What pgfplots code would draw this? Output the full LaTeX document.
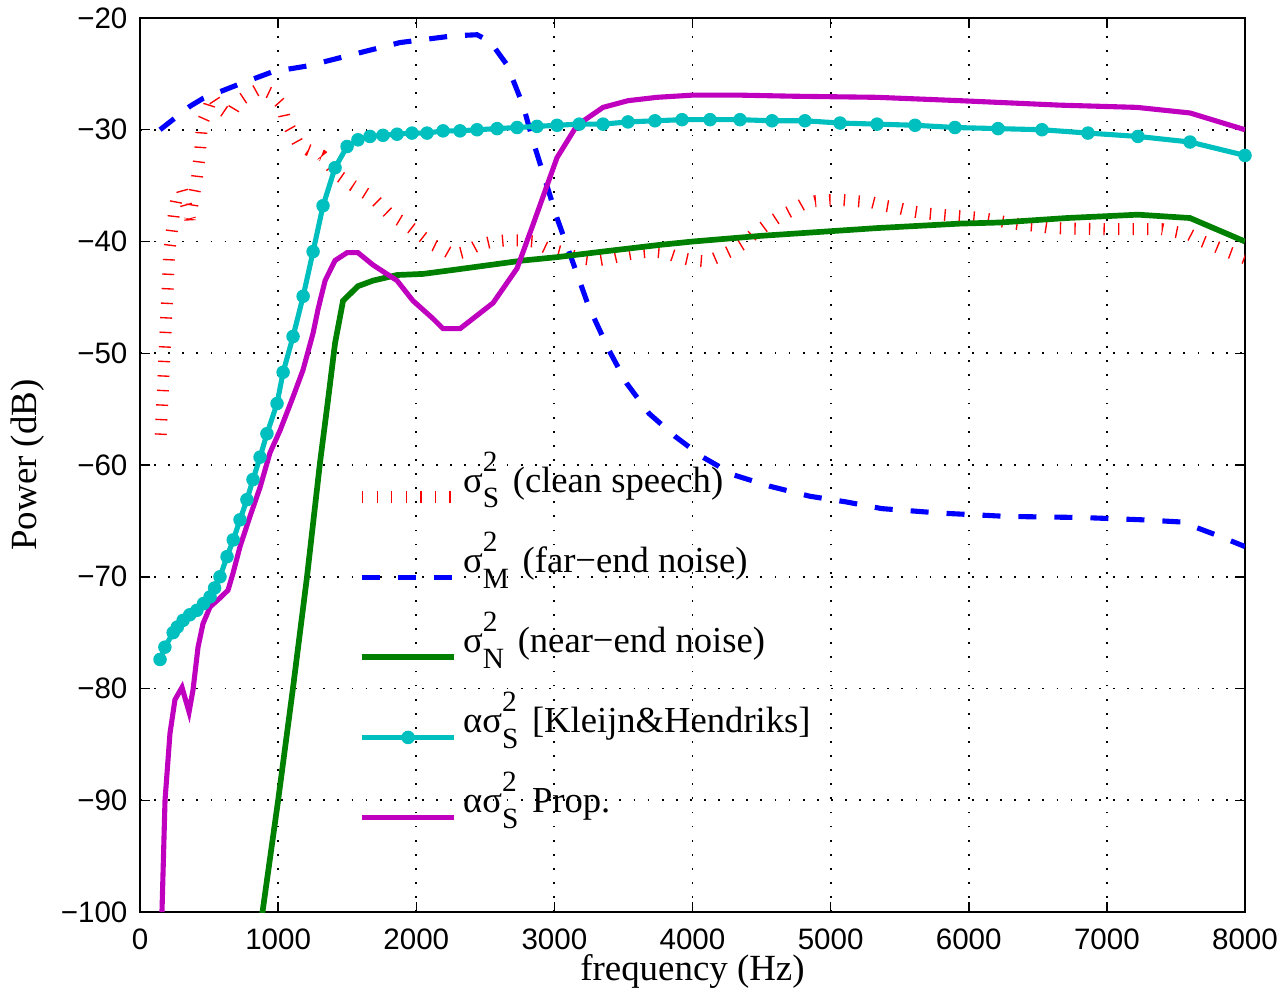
\documentclass[border=0pt]{standalone}
\usepackage{fontspec}
\setmainfont{Liberation Serif}
\newfontfamily\helv{Liberation Sans}
\usepackage{pgfplots}
\pgfplotsset{compat=1.18}
\definecolor{mred}{rgb}{1,0,0}
\definecolor{mblue}{rgb}{0,0,1}
\definecolor{mgreen}{rgb}{0,0.5,0}
\definecolor{mcyan}{rgb}{0,0.75,0.75}
\definecolor{mmag}{rgb}{0.75,0,0.75}
\newcommand{\sq}[1]{\rlap{\raisebox{7pt}{\fontsize{9.8}{10}\selectfont 2}}\raisebox{-5.3pt}{\fontsize{9.8}{10}\selectfont #1}\hspace{1.5pt}}
\begin{document}
\begin{tikzpicture}
\begin{axis}[
  scale only axis,
  width=368.3pt, height=298pt,
  xmin=0, xmax=8000, ymin=-100, ymax=-20,
  xtick={0,1000,2000,3000,4000,5000,6000,7000,8000},
  xticklabels={0,1000,2000,3000,4000,5000,6000,7000,8000},
  ytick={-100,-90,-80,-70,-60,-50,-40,-30,-20},
  yticklabels={−100,−90,−80,−70,−60,−50,−40,−30,−20},
  tick align=inside,
  major tick length=3.3pt,
  tick style={black, line width=0.5pt},
  axis line style={line width=0.6pt},
  ticklabel style={font=\helv\fontsize{9.85}{11}\selectfont},
  xticklabel style={inner sep=0pt, yshift=-5.3pt},
  yticklabel style={inner sep=0pt, xshift=-4pt},
  grid=major,
  major grid style={black, line width=0.6pt, dash pattern=on 0.6pt off 4.1pt},
  xlabel={frequency (Hz)},
  ylabel={Power (dB)},
  label style={font=\fontsize{12.3}{14}\selectfont},
  xlabel style={at={(axis description cs:0.5,0)}, anchor=north, inner sep=0pt, yshift=-14pt},
  ylabel style={at={(axis description cs:0,0.5)}, anchor=center, inner sep=0pt, yshift=37.3pt},
  legend cell align=left,
  legend style={draw=none, fill=none, at={(rel axis cs:0.1955,0.5235)}, anchor=north west,
    inner sep=0pt, outer sep=0pt, font=\fontsize{12.2}{14}\selectfont,
    row sep=0pt, column sep=1pt,
    cells={anchor=base west},
    nodes={inner sep=0pt, text height=16pt, text depth=10.7pt}},
  legend image code/.code={\draw[mark repeat=2,mark phase=2,#1] plot coordinates {(0pt,-1.7pt) (15.35pt,-1.7pt) (30.7pt,-1.7pt)};},
]
% clean speech
\addplot[mred, mark=none, line width=4pt, line join=bevel, dash pattern=on 0.45pt off 4.4pt] coordinates {
(150,-57.3) (212,-40.9) (237,-38.4) (247,-37.3) (267,-36.0) (304,-35.4) (362,-38.0) (391,-35.8) (411,-34.5) (422,-33.3) (434,-32.1) (441,-30.8) (449,-29.4) (485,-28.4) (521,-27.0) (579,-28.1) (651,-28.7) (709,-27.5) (782,-26.9) (869,-26.3) (955,-26.8) (1028,-27.8) (1050,-29.1) (1100,-30.2) (1144,-31.2) (1216,-31.8) (1318,-32.3) (1426,-34.0) (1542,-35.0) (1687,-36.1) (1810,-37.6) (1933,-38.5) (2027,-39.4) (2121,-40.3) (2223,-40.9) (2266,-41.2) (2360,-40.9) (2450,-40.3) (2556,-40.0) (2650,-39.9) (2740,-39.9) (2845,-40.0) (2947,-40.6) (3041,-40.9) (3186,-41.5) (3308,-41.7) (3403,-41.5) (3511,-41.2) (3605,-41.0) (3707,-40.9) (3801,-41.0) (3895,-41.4) (4004,-41.7) (4105,-41.8) (4199,-41.3) (4286,-40.8) (4366,-40.2) (4438,-39.4) (4525,-38.6) (4612,-37.9) (4706,-37.3) (4793,-36.7) (4887,-36.4) (4995,-36.3) (5090,-36.3) (5191,-36.4) (5300,-36.5) (5394,-36.8) (5488,-37.0) (5589,-37.3) (5698,-37.5) (5792,-37.6) (5886,-37.7) (5995,-37.8) (6096,-37.9) (6190,-38.1) (6284,-38.3) (6393,-38.5) (6494,-38.6) (6603,-38.8) (7000,-38.9) (7400,-38.9) (7602,-39.4) (7696,-40.0) (7797,-40.5) (7891,-41.0) (8000,-41.5)
};
\addlegendentry{σ\sq{S} (clean speech)}
% far-end noise
\addplot[mblue, mark=none, line width=1.7pt, dash pattern=on 6pt off 6pt] coordinates {
(145,-30.0) (362,-27.9) (456,-27.2) (702,-26.0) (963,-24.8) (1209,-24.3) (1499,-23.4) (1882,-22.2) (2266,-21.6) (2440,-21.5) (2534,-22.1) (2657,-24.2) (2773,-27.8) (2845,-31.0) (3019,-37.9) (3248,-45.8) (3394,-49.7) (3524,-52.7) (3686,-55.4) (3880,-57.5) (4075,-59.3) (4301,-60.9) (4560,-61.9) (4852,-62.8) (5111,-63.3) (5370,-63.9) (5791,-64.3) (6277,-64.6) (6828,-64.7) (7249,-64.9) (7541,-65.1) (7800,-66.3) (8000,-67.3)
};
\addlegendentry{σ\sq{M} (far−end noise)}
% near-end noise
\addplot[mgreen, mark=none, line width=1.9pt] coordinates {
(880,-100.6) (1000,-90.0) (1108,-79.9) (1209,-70.0) (1303,-59.8) (1361,-54.2) (1412,-49.1) (1470,-45.3) (1578,-44.0) (1687,-43.5) (1861,-43.0) (2049,-42.9) (2295,-42.5) (2534,-42.1) (2773,-41.7) (3019,-41.4) (3352,-40.9) (3765,-40.3) (4004,-40.0) (4489,-39.5) (4974,-39.1) (5336,-38.8) (5936,-38.4) (6226,-38.3) (6711,-37.9) (7225,-37.6) (7602,-37.9) (8000,-40.0)
};
\addlegendentry{σ\sq{N} (near−end noise)}
% Kleijn & Hendriks
\addplot[mcyan, line width=1.7pt, mark=*, mark size=2pt, mark options={solid, fill=mcyan, draw=mcyan, line width=0.5pt}] coordinates {
(145,-77.4) (180,-76.3) (240,-75.0) (270,-74.5) (312,-73.9) (360,-73.4) (412,-73.0) (460,-72.4) (507,-71.8) (540,-71.0) (579,-70.0) (630,-68.2) (675,-66.7) (724,-64.9) (774,-63.1) (818,-61.3) (869,-59.3) (919,-57.2) (992,-54.5) (1036,-51.7) (1108,-48.5) (1181,-44.9) (1253,-40.9) (1325,-36.8) (1412,-33.4) (1499,-31.5) (1578,-30.9) (1665,-30.6) (1759,-30.5) (1861,-30.4) (1969,-30.3) (2078,-30.3) (2194,-30.1) (2317,-30.1) (2440,-30.0) (2585,-29.9) (2730,-29.8) (2874,-29.7) (3019,-29.6) (3180,-29.5) (3352,-29.5) (3533,-29.3) (3728,-29.2) (3924,-29.1) (4127,-29.1) (4344,-29.1) (4576,-29.2) (4814,-29.2) (5068,-29.4) (5336,-29.5) (5611,-29.6) (5900,-29.8) (6212,-29.9) (6530,-30.0) (6863,-30.3) (7225,-30.6) (7602,-31.1) (8000,-32.3)
};
\addlegendentry{ασ\sq{S} [Kleijn\&Hendriks]}
% proposed
\addplot[mmag, mark=none, line width=1.7pt] coordinates {
(159,-100.0) (181,-90.0) (217,-84.0) (253,-81.0) (304,-79.9) (355,-82.1) (384,-80.1) (420,-76.3) (456,-74.2) (507,-72.7) (579,-71.9) (637,-71.2) (673,-69.7) (724,-67.3) (796,-64.6) (869,-62.0) (941,-58.9) (1014,-56.9) (1108,-53.9) (1180,-51.5) (1253,-48.2) (1290,-46.0) (1340,-43.5) (1412,-41.7) (1499,-41.0) (1578,-41.0) (1687,-42.1) (1861,-43.5) (1976,-45.3) (2121,-46.9) (2194,-47.8) (2317,-47.8) (2556,-45.5) (2730,-42.4) (2845,-38.5) (3019,-32.5) (3164,-29.6) (3352,-28.0) (3533,-27.4) (3743,-27.1) (4004,-26.9) (4322,-26.9) (4727,-27.0) (5336,-27.1) (5936,-27.4) (6660,-27.8) (7218,-28.0) (7602,-28.5) (8000,-30.0)
};
\addlegendentry{ασ\sq{S} Prop.}
\end{axis}
\pgfresetboundingbox
\path[use as bounding box] ([xshift=-46.67pt,yshift=-26.33pt]current axis.south west) rectangle ([xshift=12.67pt,yshift=6pt]current axis.north east);
\end{tikzpicture}
\end{document}
